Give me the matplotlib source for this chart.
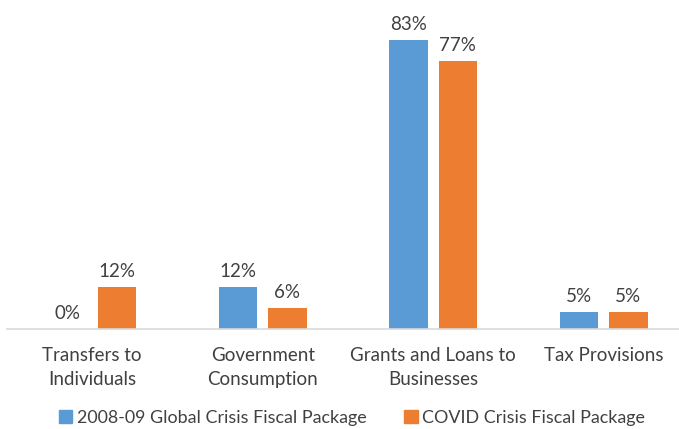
import matplotlib
matplotlib.use("Agg")
import matplotlib.pyplot as plt
import numpy as np

categories = ["Transfers to\nIndividuals", "Government\nConsumption",
              "Grants and Loans to\nBusinesses", "Tax Provisions"]
series_names = ["2008-09 Global Crisis Fiscal Package", "COVID Crisis Fiscal Package"]
global_crisis = [0, 12, 83, 5]
covid_crisis = [12, 6, 77, 5]

blue = "#5B9BD5"
orange = "#ED7D31"
text_color = "#404040"

plt.rcParams["font.family"] = ["Lato", "DejaVu Sans"]

fig = plt.figure(figsize=(6.79, 4.29), dpi=100)
# axes: baseline at y=329px from top, left edge at 7px, runs off the right edge
ax = fig.add_axes([7 / 679, 100 / 429, 682 / 679, 329 / 429])

x = np.arange(len(categories))
w = 0.226
off = 0.144
b1 = ax.bar(x - off, global_crisis, w, color=blue)
b2 = ax.bar(x + off, covid_crisis, w, color=orange)

for bars, vals in [(b1, global_crisis), (b2, covid_crisis)]:
    for rect, v in zip(bars, vals):
        ax.annotate(f"{v}%", (rect.get_x() + rect.get_width() / 2, rect.get_height()),
                    xytext=(0, 7), textcoords="offset pixels",
                    ha="center", va="bottom", fontsize=13.5, color=text_color)

ax.set_xlim(-0.5, 3.5)
ax.set_ylim(0, 329 / 3.48)
ax.set_xticks(x)
ax.set_xticklabels(categories, fontsize=13.5, color=text_color, linespacing=1.5)
ax.tick_params(axis="x", length=0, pad=13)
ax.set_yticks([])

for side in ["top", "right", "left"]:
    ax.spines[side].set_visible(False)
ax.spines["bottom"].set_color("#D9D9D9")
ax.spines["bottom"].set_linewidth(1.2)

handles = [plt.Rectangle((0, 0), 1, 1, color=blue), plt.Rectangle((0, 0), 1, 1, color=orange)]
fig.legend(handles, series_names, loc="center", bbox_to_anchor=(352 / 679, 1 - 418 / 429),
           ncol=2, frameon=False, fontsize=12.9, labelcolor=text_color,
           handlelength=0.75, handleheight=0.75, handletextpad=0.25, columnspacing=2.1)

fig.savefig("out.png", dpi=100)
